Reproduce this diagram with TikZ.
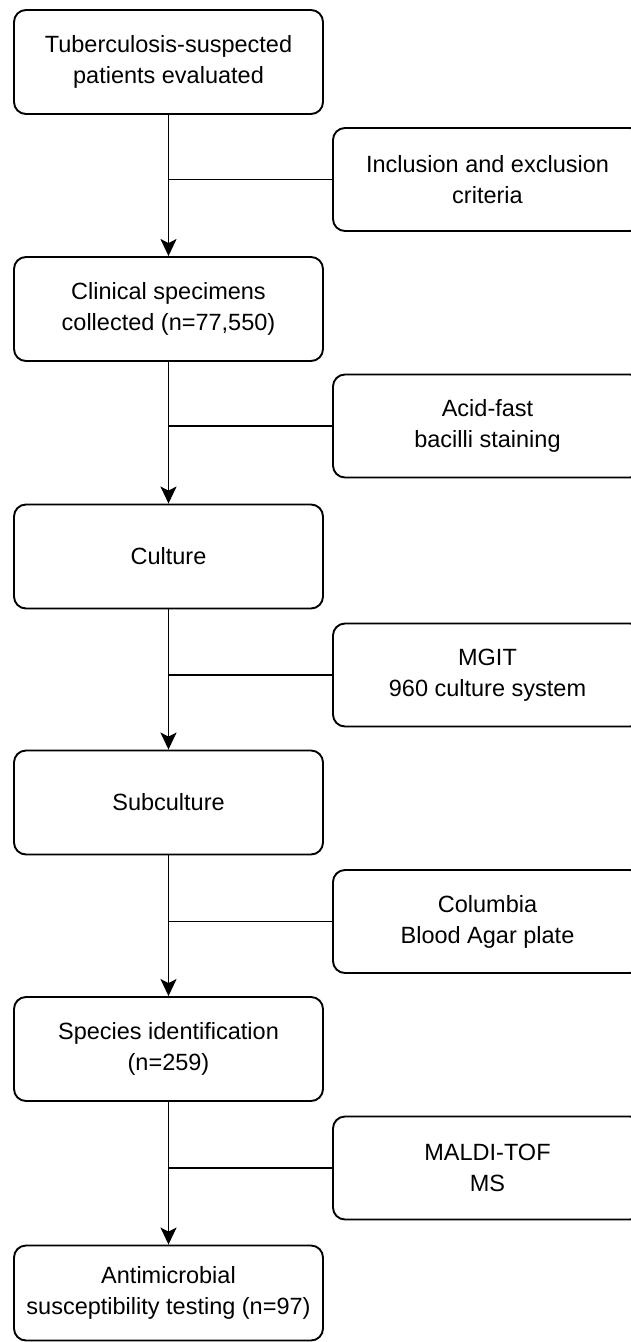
\documentclass[tikz,border=0pt]{standalone}
\usepackage{fontspec}
\setmainfont{Liberation Sans}
\usetikzlibrary{arrows.meta}
\begin{document}
\begin{tikzpicture}[x=1pt,y=-1pt,
  box/.style={draw=black,line width=1.9pt,rounded corners=12pt,minimum width=309pt,minimum height=104pt,
    align=center,font=\fontsize{23.5}{31}\selectfont,inner sep=0pt},
  flow/.style={line width=1.9pt,-{Stealth[length=17pt,width=16pt,inset=4pt]}},
  side/.style={line width=1.6pt}]
\useasboundingbox (0,0) rectangle (631,1342);
\node[box] (b1) at (168.5,62) {Tuberculosis-suspected\\patients evaluated};
\node[box] (b2) at (168.5,309) {Clinical specimens\\collected (n=77,550)};
\node[box] (b3) at (168.5,556.5) {Culture};
\node[box] (b4) at (168.5,802.5) {Subculture};
\node[box] (b5) at (168.5,1049) {Species identification\\(n=259)};
\node[box,minimum height=95pt] (b6) at (168.5,1293) {Antimicrobial\\susceptibility testing (n=97)};
\node[box,minimum height=103pt] (r1) at (487.5,179.5) {Inclusion and exclusion\\criteria};
\node[box,minimum height=103pt] (r2) at (487.5,426) {Acid-fast\\bacilli staining};
\node[box,minimum height=103pt] (r3) at (487.5,675) {MGIT\\960 culture system};
\node[box,minimum height=103pt] (r4) at (487.5,921.5) {Columbia\\Blood Agar plate};
\node[box,minimum height=103pt] (r5) at (487.5,1168) {MALDI-TOF\\MS};
\foreach \a/\b/\r in {b1/b2/r1,b2/b3/r2,b3/b4/r3,b4/b5/r4,b5/b6/r5}{
  \draw[flow] (\a.south) -- (\b.north);
  \draw[side] (\r.west) -- (\a.south |- \r.west);
}
\end{tikzpicture}
\end{document}
